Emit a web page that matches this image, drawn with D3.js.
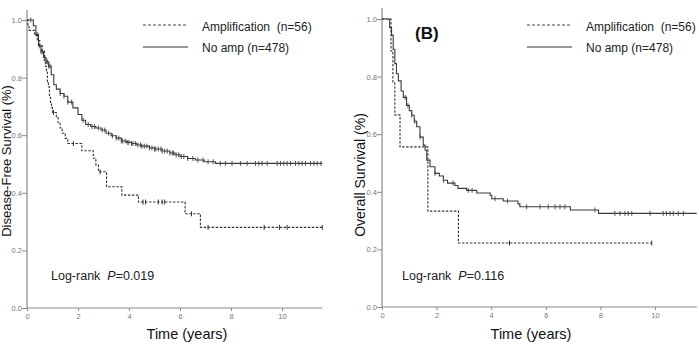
<!DOCTYPE html>
<html><head><meta charset="utf-8">
<script src="https://cdn.jsdelivr.net/npm/d3@7"></script>
<style>
html,body{margin:0;padding:0;background:#fff;}
svg{display:block;font-family:Arial,"Liberation Sans",sans-serif;}
</style></head>
<body><svg id="chart" width="699" height="350"></svg>
<script>
// ---------- DATA ----------
const timeTicks = [0, 2, 4, 6, 8, 10];
const survTicks = [0, 0.2, 0.4, 0.6, 0.8, 1.0];
const seriesNames = ["Amplification  (n=56)", "No amp (n=478)"];
const panelTitles = ["", "(B)"];
const yAxisTitles = ["Disease-Free Survival (%)", "Overall Survival (%)"];
const pValues = ["0.019", "0.116"];

// Panel A: disease-free survival, steps [time (years), survival]
const dfsAmpSteps = [[0,1.0],[0.04,0.982],[0.08,0.964],[0.3,0.946],[0.4,0.929],[0.5,0.911],[0.6,0.893],[0.68,0.857],[0.72,0.839],[0.76,0.821],[0.8,0.786],[0.84,0.768],[0.88,0.732],[0.92,0.714],[0.96,0.696],[1.0,0.679],[1.15,0.661],[1.22,0.643],[1.3,0.625],[1.38,0.607],[1.5,0.589],[1.6,0.571],[2.15,0.546],[2.6,0.52],[2.7,0.497],[2.8,0.473],[3.12,0.421],[3.72,0.392],[4.37,0.368],[6.2,0.327],[6.8,0.28],[11.58,0.28]];
const dfsAmpCensor = [1.04,1.82,2.87,4.55,4.65,5.15,5.3,5.4,6.45,7.1,9.3,9.9,10.2,11.58];
const dfsNoSteps = [[0,1],[0.18,1],[0.25,0.98],[0.35,0.95],[0.45,0.91],[0.55,0.89],[0.65,0.87],[0.75,0.855],[0.85,0.84],[0.95,0.81],[1.05,0.775],[1.15,0.76],[1.3,0.745],[1.45,0.735],[1.6,0.715],[1.8,0.695],[2.0,0.672],[2.15,0.652],[2.3,0.637],[2.5,0.63],[2.7,0.625],[2.9,0.618],[3.1,0.607],[3.3,0.598],[3.5,0.59],[3.7,0.58],[3.9,0.575],[4.1,0.571],[4.3,0.566],[4.5,0.562],[4.8,0.556],[5.0,0.552],[5.3,0.545],[5.6,0.538],[5.8,0.532],[6.0,0.526],[6.3,0.519],[6.6,0.514],[6.95,0.508],[7.39,0.502],[11.58,0.502]];
const dfsNoCensor = [0.15,0.4,0.5,0.55,0.6,0.7,0.75,0.8,0.85,0.9,1.3,1.45,1.6,1.75,2.2,2.4,2.55,2.65,2.8,2.95,3.05,3.2,3.35,3.5,3.6,3.7,3.75,3.85,3.95,4.0,4.1,4.15,4.25,4.35,4.45,4.5,4.6,4.7,4.8,4.9,5.0,5.05,5.15,5.25,5.3,5.4,5.5,5.6,5.7,5.75,5.85,5.95,6.05,6.15,6.3,6.5,6.7,6.9,7.1,7.3,7.58,7.78,8.04,8.37,8.63,8.96,9.09,9.22,9.42,9.81,9.94,10.07,10.2,10.33,10.53,10.66,10.79,10.92,11.12,11.25,11.38,11.53];

// Panel B: overall survival
const osAmpSteps = [[0,1.0],[0.33,0.889],[0.4,0.778],[0.47,0.667],[0.66,0.556],[1.68,0.333],[2.8,0.222],[9.88,0.222]];
const osAmpCensor = [4.67, 9.88];
const osNoSteps = [[0,1],[0.23,1],[0.28,0.97],[0.35,0.944],[0.41,0.895],[0.47,0.845],[0.53,0.81],[0.6,0.785],[0.7,0.75],[0.78,0.728],[0.9,0.70],[1.0,0.682],[1.09,0.666],[1.18,0.645],[1.27,0.626],[1.39,0.59],[1.51,0.562],[1.58,0.545],[1.64,0.51],[1.76,0.487],[1.94,0.464],[2.1,0.455],[2.25,0.44],[2.4,0.43],[2.67,0.422],[2.78,0.412],[3.1,0.405],[3.47,0.396],[3.96,0.388],[4.02,0.376],[4.44,0.368],[4.98,0.358],[5.05,0.348],[6.9,0.337],[7.93,0.325],[11.53,0.325]];
const osNoCensor = [0.85,0.95,1.09,1.2,1.4,1.94,2.25,2.6,3.16,3.3,4.14,4.6,5.3,5.79,6.09,6.34,6.52,6.7,7.8,8.53,8.72,8.9,9.02,9.15,9.82,10.3,10.42,10.55,10.67,10.85,11.04];

// ---------- DRAW ----------
const svg = d3.select("#chart");
const axisColor = "#8a8a8a";
const tickTextColor = "#777";

const panels = [
  {x0:27, x10:282, xEnd:11.58, yTop:20, yBot:308, axisTop:10,
   amp:dfsAmpSteps, ampC:dfsAmpCensor, no:dfsNoSteps, noC:dfsNoCensor,
   legLine:[143,188], legText:202, title:panelTitles[0], titleX:415,
   yTitle:yAxisTitles[0], yTitleX:11, yTitleY:161, yTitleSize:13, p:pValues[0], pX:51, tX:187},
  {x0:382, x10:655, xEnd:11.53, yTop:19, yBot:307, axisTop:8,
   amp:osAmpSteps, ampC:osAmpCensor, no:osNoSteps, noC:osNoCensor,
   legLine:[527,572], legText:586, title:panelTitles[1], titleX:415,
   yTitle:yAxisTitles[1], yTitleX:365, yTitleY:175, yTitleSize:14, p:pValues[1], pX:402, tX:531}
];

function survAt(steps, t){
  let s = steps[0][1];
  for (const d of steps){ if (d[0] <= t + 1e-9) s = d[1]; }
  return s;
}

panels.forEach(p => {
  const x = d3.scaleLinear().domain([0,10]).range([p.x0, p.x10]);
  const y = d3.scaleLinear().domain([0,1]).range([p.yBot, p.yTop]);
  const g = svg.append("g");

  // y axis
  const yAx = g.append("g").attr("transform", `translate(${p.x0},0)`)
    .call(d3.axisLeft(y).tickValues(survTicks).tickFormat(d3.format(".1f")).tickSize(5).tickSizeOuter(0));
  yAx.select(".domain").remove();
  g.append("line").attr("x1",p.x0).attr("x2",p.x0).attr("y1",p.axisTop).attr("y2",p.yBot)
    .attr("stroke",axisColor).attr("stroke-width",1.2);
  // x axis
  const xAx = g.append("g").attr("transform", `translate(0,${p.yBot})`)
    .call(d3.axisBottom(x).tickValues(timeTicks).tickFormat(d3.format("d")).tickSize(3).tickSizeOuter(0));
  xAx.select(".domain").remove();
  g.append("line").attr("x1",p.x0).attr("x2",x(p.xEnd)).attr("y1",p.yBot).attr("y2",p.yBot)
    .attr("stroke",axisColor).attr("stroke-width",1.2);
  [yAx, xAx].forEach(a => {
    a.selectAll(".tick line").attr("stroke",axisColor);
    a.selectAll(".tick text").attr("fill",tickTextColor).style("font-size","7.5px")
      .style("font-family","Arial, 'Liberation Sans', sans-serif");
  });
  yAx.selectAll(".tick text").attr("x",-5);
  xAx.selectAll(".tick text").attr("y",6);

  const line = d3.line().x(d=>x(d[0])).y(d=>y(d[1])).curve(d3.curveStepAfter);

  // No amp (solid)
  g.append("path").attr("d", line(p.no)).attr("fill","none")
    .attr("stroke","#3a3a3a").attr("stroke-width",1.1);
  g.selectAll(null).data(p.noC).enter().append("line")
    .attr("x1",d=>x(d)).attr("x2",d=>x(d))
    .attr("y1",d=>y(survAt(p.no,d))-2.5).attr("y2",d=>y(survAt(p.no,d))+2.5)
    .attr("stroke","#444").attr("stroke-width",0.9);

  // Amplification (dashed)
  g.append("path").attr("d", line(p.amp)).attr("fill","none")
    .attr("stroke","#333").attr("stroke-width",1.1).attr("stroke-dasharray","2.5,1.5");
  g.selectAll(null).data(p.ampC).enter().append("line")
    .attr("x1",d=>x(d)).attr("x2",d=>x(d))
    .attr("y1",d=>y(survAt(p.amp,d))-2.5).attr("y2",d=>y(survAt(p.amp,d))+2.5)
    .attr("stroke","#333").attr("stroke-width",1);

  // legend
  const legY = [25, 47];
  g.append("line").attr("x1",p.legLine[0]).attr("x2",p.legLine[1]).attr("y1",legY[0]).attr("y2",legY[0])
    .attr("stroke","#444").attr("stroke-width",1.1).attr("stroke-dasharray","3,2");
  g.append("line").attr("x1",p.legLine[0]).attr("x2",p.legLine[1]).attr("y1",legY[1]).attr("y2",legY[1])
    .attr("stroke","#333").attr("stroke-width",1.2);
  seriesNames.forEach((nm,i) => {
    g.append("text").attr("x",p.legText).attr("y",[31,52][i]).text(nm)
      .attr("fill","#222").style("font-size","12px").style("white-space","pre");
  });

  // panel title
  if (p.title) {
    g.append("text").attr("x",p.titleX).attr("y",39).text(p.title)
      .attr("fill","#111").style("font-size","17px").style("font-weight","bold");
  }

  // y title
  g.append("text").attr("transform",`translate(${p.yTitleX},${p.yTitleY}) rotate(-90)`)
    .attr("text-anchor","middle").text(p.yTitle).attr("fill","#111").style("font-size",p.yTitleSize+"px");

  // x title
  g.append("text").attr("x",p.tX).attr("y",339).attr("text-anchor","middle")
    .text("Time (years)").attr("fill","#111").style("font-size","14.5px");

  // log-rank text
  const t = g.append("text").attr("x",p.pX).attr("y",280).attr("fill","#222").style("font-size","12.5px")
    .style("white-space","pre");
  t.append("tspan").text("Log-rank  ");
  t.append("tspan").text("P").style("font-style","italic");
  t.append("tspan").text("=" + p.p);
});
</script>
</body></html>
